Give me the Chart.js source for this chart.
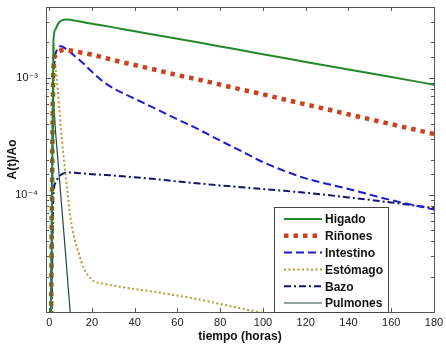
<!DOCTYPE html>
<html>
<head>
<meta charset="utf-8">
<script src="https://cdn.jsdelivr.net/npm/chart.js@4"></script>
<style>
html, body { margin: 0; padding: 0; background: #fff; }
</style>
</head>
<body>
<canvas id="mycanvas" width="446" height="347"></canvas>
<script>
// tiempo en horas, A(t)/Ao por organo
var tiempo = [0.5, 2, 3, 4, 5, 6, 7, 8, 10, 12, 14, 16, 20, 25, 30, 40, 50, 60, 70, 80, 90, 100, 110, 120, 140, 160, 180];

var higado = [1e-6, 2.1e-3, 2.6e-3, 2.85e-3, 3.0e-3, 3.08e-3, 3.12e-3, 3.13e-3, 3.12e-3, 3.06e-3, 3.02e-3, 2.97e-3, 2.88e-3, 2.78e-3, 2.68e-3, 2.48e-3, 2.31e-3, 2.14e-3, 1.99e-3, 1.84e-3, 1.71e-3, 1.58e-3, 1.47e-3, 1.36e-3, 1.17e-3, 1.01e-3, 8.7e-4];
var rinones = [1e-6, 1.2e-3, 1.55e-3, 1.65e-3, 1.69e-3, 1.71e-3, 1.72e-3, 1.72e-3, 1.70e-3, 1.68e-3, 1.65e-3, 1.62e-3, 1.57e-3, 1.49e-3, 1.41e-3, 1.28e-3, 1.16e-3, 1.05e-3, 9.6e-4, 8.7e-4, 7.9e-4, 7.2e-4, 6.5e-4, 5.9e-4, 4.86e-4, 4.0e-4, 3.3e-4];
var intestino = [1e-6, 1.0e-3, 1.6e-3, 1.8e-3, 1.85e-3, 1.84e-3, 1.8e-3, 1.74e-3, 1.64e-3, 1.52e-3, 1.42e-3, 1.32e-3, 1.12e-3, 9.3e-4, 8.1e-4, 6.6e-4, 5.4e-4, 4.4e-4, 3.6e-4, 2.9e-4, 2.35e-4, 1.9e-4, 1.6e-4, 1.38e-4, 1.12e-4, 9.0e-5, 7.5e-5];
var estomago = [1e-6, 1.9e-3, 1.23e-3, 7.9e-4, 4.6e-4, 2.9e-4, 1.9e-4, 1.3e-4, 6.3e-5, 4.1e-5, 3.1e-5, 2.4e-5, 1.88e-5, 1.75e-5, 1.68e-5, 1.57e-5, 1.48e-5, 1.38e-5, 1.28e-5, 1.17e-5, 1.07e-5, 9.8e-6, 9.0e-6, 8.3e-6, 7e-6, 6e-6, 5e-6];
var bazo = [1e-6, 1.0e-4, 1.27e-4, 1.38e-4, 1.45e-4, 1.5e-4, 1.53e-4, 1.54e-4, 1.55e-4, 1.54e-4, 1.53e-4, 1.52e-4, 1.5e-4, 1.48e-4, 1.46e-4, 1.41e-4, 1.36e-4, 1.3e-4, 1.25e-4, 1.2e-4, 1.16e-4, 1.12e-4, 1.08e-4, 1.04e-4, 9.5e-5, 8.6e-5, 7.7e-5];
var pulmones = [1e-6, 6e-4, 3.4e-4, 2.05e-4, 1.23e-4, 7.3e-5, 4.4e-5, 2.6e-5, 9e-6, 3e-6, null, null, null, null, null, null, null, null, null, null, null, null, null, null, null, null, null];

var xTicks = [0, 20, 40, 60, 80, 100, 120, 140, 160, 180];
var yLabels = { "-3": "10\u207B\u00B3", "-4": "10\u207B\u2074" };

function pts(vals) {
    var out = [];
    for (var i in tiempo) {
        out.push({ x: tiempo[i], y: vals[i] });
    }
    return out;
}

function serie(label, vals, color, width, dash) {
    return {
        label: label,
        data: pts(vals),
        borderColor: color,
        backgroundColor: color,
        borderWidth: width,
        borderDash: dash,
        borderCapStyle: "butt",
        pointRadius: 0,
        fill: false,
        cubicInterpolationMode: "monotone",
        spanGaps: false
    };
}

var chartdata = {
    datasets: [
        serie("Higado", higado, "#23892b", 2, []),
        serie("Riñones", rinones, "#c8431f", 4.5, [4.5, 5]),
        serie("Intestino", intestino, "#1c1ccc", 2, [8, 4]),
        serie("Estómago", estomago, "#b99a35", 2, [2, 2.5]),
        serie("Bazo", bazo, "#15156a", 2, [7, 3, 2, 3]),
        serie("Pulmones", pulmones, "#1f4a40", 1.2, [])
    ]
};

// marco y marcas hacia dentro (estilo MATLAB)
var boxPlugin = {
    id: "box",
    afterDatasetsDraw: function (chart) {
        var ctx = chart.ctx, a = chart.chartArea;
        var xs = chart.scales.x, ys = chart.scales.y;
        ctx.save();
        ctx.strokeStyle = "#555";
        ctx.lineWidth = 1;
        ctx.beginPath();
        xs.ticks.forEach(function (t) {
            var px = Math.round(xs.getPixelForValue(t.value)) + 0.5;
            ctx.moveTo(px, a.bottom); ctx.lineTo(px, a.bottom - 4);
            ctx.moveTo(px, a.top); ctx.lineTo(px, a.top + 4);
        });
        ys.ticks.forEach(function (t) {
            var py = Math.round(ys.getPixelForValue(t.value)) + 0.5;
            var lg = Math.log10(t.value);
            var len = Math.abs(lg - Math.round(lg)) < 1e-6 ? 5 : 3;
            ctx.moveTo(a.left, py); ctx.lineTo(a.left + len, py);
            ctx.moveTo(a.right, py); ctx.lineTo(a.right - len, py);
        });
        ctx.stroke();
        ctx.strokeRect(Math.round(a.left) + 0.5, Math.round(a.top) + 0.5,
            Math.round(a.right - a.left), Math.round(a.bottom - a.top));
        ctx.restore();
    }
};

// leyenda dentro del area del grafico
var legendPlugin = {
    id: "insideLegend",
    afterDraw: function (chart) {
        var ctx = chart.ctx, a = chart.chartArea;
        var right = a.right - 46, bottom = a.bottom;
        var left = right - 114, top = bottom - 105;
        ctx.save();
        ctx.fillStyle = "#fff";
        ctx.fillRect(left, top, right - left, bottom - top);
        ctx.strokeStyle = "#444";
        ctx.lineWidth = 1;
        ctx.strokeRect(Math.round(left) + 0.5, Math.round(top) + 0.5, right - left, bottom - top);
        ctx.font = "bold 12px 'Liberation Sans', Arial, sans-serif";
        ctx.textBaseline = "middle";
        chart.data.datasets.forEach(function (ds, i) {
            var y = top + 12 + i * 16.8;
            ctx.beginPath();
            ctx.strokeStyle = ds.borderColor;
            ctx.lineWidth = ds.borderWidth;
            ctx.setLineDash(ds.borderDash);
            ctx.moveTo(left + 10, y);
            ctx.lineTo(left + 48, y);
            ctx.stroke();
            ctx.setLineDash([]);
            ctx.fillStyle = "#111";
            ctx.fillText(ds.label, left + 51, y + 1);
        });
        ctx.restore();
    }
};

var ctx = document.getElementById("mycanvas");

var chart = new Chart(ctx, {
    type: "line",
    data: chartdata,
    plugins: [boxPlugin, legendPlugin],
    options: {
        responsive: false,
        animation: false,
        devicePixelRatio: 1,
        layout: { padding: { top: 7, right: 12, left: 0, bottom: 0 } },
        plugins: { legend: { display: false }, tooltip: { enabled: false } },
        scales: {
            x: {
                type: "linear",
                min: -1.5,
                max: 180,
                afterFit: function (s) {
                    s.height = 35;
                    s.paddingLeft = 0;
                    s.paddingRight = 0;
                },
                afterBuildTicks: function (s) {
                    s.ticks = xTicks.map(function (v) { return { value: v }; });
                },
                grid: { display: false, drawTicks: false },
                border: { display: false },
                ticks: {
                    color: "#222",
                    padding: 4,
                    maxRotation: 0,
                    autoSkip: false,
                    font: { family: "'Liberation Sans', Arial, sans-serif", size: 11 }
                },
                title: {
                    display: true,
                    text: "tiempo (horas)",
                    color: "#111",
                    padding: { top: 0, bottom: 3 },
                    font: { family: "'Liberation Sans', Arial, sans-serif", size: 12, weight: "bold" }
                }
            },
            y: {
                type: "logarithmic",
                min: 1e-5,
                max: 4e-3,
                afterFit: function (s) {
                    s.width = 46;
                    s.paddingTop = 0;
                    s.paddingBottom = 0;
                },
                grid: { display: false, drawTicks: false },
                border: { display: false },
                ticks: {
                    color: "#222",
                    padding: 8,
                    autoSkip: false,
                    font: { family: "'Liberation Sans', 'DejaVu Sans', Arial, sans-serif", size: 11 },
                    callback: function (v) {
                        var lg = Math.log10(v);
                        if (Math.abs(lg - Math.round(lg)) < 1e-6) {
                            var k = String(Math.round(lg));
                            return yLabels[k] || "";
                        }
                        return "";
                    }
                },
                title: {
                    display: true,
                    text: "A(t)/Ao",
                    color: "#111",
                    padding: { top: 5, bottom: 0 },
                    font: { family: "'Liberation Sans', Arial, sans-serif", size: 12, weight: "bold" }
                }
            }
        }
    }
});
</script>
</body>
</html>
